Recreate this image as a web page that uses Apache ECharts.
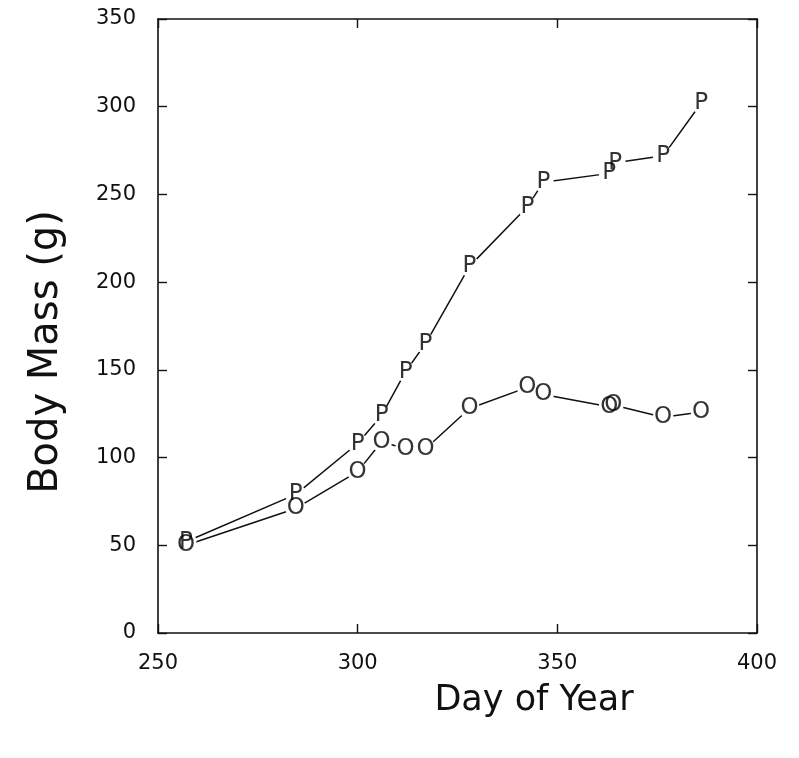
<!DOCTYPE html>
<html>
<head>
<meta charset="utf-8">
<script src="https://cdn.jsdelivr.net/npm/echarts@6/dist/echarts.min.js"></script>
<style>
html,body{margin:0;padding:0;background:#fff;}
#chart{width:799px;height:758px;}
</style>
</head>
<body>
<div id="chart"></div>
<script>
// Day of year and body mass (g)
const pDays   = [257, 284.5, 300, 306, 312, 317, 328, 342.5, 346.5, 363, 364.5, 376.5, 386];
const pMass   = [52, 79, 108, 124, 149, 165, 209, 243, 257, 262, 268, 272, 302];
const oDays   = [257, 284.5, 300, 306, 312, 317, 328, 342.5, 346.5, 363, 364, 376.5, 386];
const oMass   = [50, 71, 92, 109, 105, 105, 128, 140, 136, 129, 130, 123, 126];
const xTicks  = [250, 300, 350, 400];
const yTicks  = [0, 50, 100, 150, 200, 250, 300, 350];
const xTitle  = 'Day of Year';
const yTitle  = 'Body Mass (g)';

const pData = pDays.map((d, i) => [d, pMass[i]]);
const oData = oDays.map((d, i) => [d, oMass[i]]);

const FONT = 'DejaVu Sans';
const INK = '#111';

const chart = echarts.init(document.getElementById('chart'), null, {renderer: 'canvas'});

function lineSeries(data) {
  return {type: 'line', data: data, symbol: 'none', z: 2, silent: true,
          lineStyle: {color: INK, width: 1.5}};
}
function maskSeries(data) {
  return {type: 'scatter', data: data, symbol: 'circle', symbolSize: 21, z: 3, silent: true,
          itemStyle: {color: '#fff', opacity: 1}};
}
function letterSeries(data, letter) {
  return {type: 'scatter', data: data, symbol: 'circle', symbolSize: 1, z: 4, silent: true,
          itemStyle: {color: 'rgba(0,0,0,0)'},
          label: {show: true, position: 'inside', formatter: letter,
                  fontFamily: FONT, fontSize: 23, color: '#000',
                  textBorderWidth: 0, textBorderColor: 'transparent'}};
}

const axisCommon = {
  axisLine: {show: true, onZero: false, lineStyle: {color: INK, width: 1.6}},
  axisTick: {show: true, inside: true, length: 9, lineStyle: {color: INK, width: 1.4}},
  splitLine: {show: false}
};

chart.setOption({
  animation: false,
  backgroundColor: '#fff',
  grid: {left: 158, right: 42, top: 19, bottom: 125, show: false},
  xAxis: [
    Object.assign({type: 'value', min: xTicks[0], max: xTicks[xTicks.length - 1], interval: 50,
      position: 'bottom',
      axisLabel: {show: true, margin: 20, fontFamily: FONT, fontSize: 21, color: INK,
                  formatter: v => xTicks.includes(v) ? String(v) : ''}}, axisCommon),
    Object.assign({type: 'value', min: xTicks[0], max: xTicks[xTicks.length - 1], interval: 50,
      position: 'top', axisLabel: {show: false}}, axisCommon)
  ],
  yAxis: [
    Object.assign({type: 'value', min: yTicks[0], max: yTicks[yTicks.length - 1], interval: 50,
      position: 'left',
      axisLabel: {show: true, margin: 22, fontFamily: FONT, fontSize: 21, color: INK,
                  formatter: v => yTicks.includes(v) ? String(v) : ''}}, axisCommon),
    Object.assign({type: 'value', min: yTicks[0], max: yTicks[yTicks.length - 1], interval: 50,
      position: 'right', axisLabel: {show: false}}, axisCommon)
  ],
  series: [
    lineSeries(pData),
    lineSeries(oData),
    maskSeries(pData),
    maskSeries(oData),
    letterSeries(pData, 'P'),
    letterSeries(oData, 'O')
  ],
  graphic: [
    {type: 'text', x: 534, y: 701, silent: true,
     style: {text: xTitle, fontFamily: FONT, fontSize: 35, fill: INK,
             align: 'center', verticalAlign: 'middle'}},
    {type: 'text', x: 47, y: 352, rotation: Math.PI / 2, silent: true,
     style: {text: yTitle, fontFamily: FONT, fontSize: 40, fill: INK,
             align: 'center', verticalAlign: 'middle'}}
  ]
});
</script>
</body>
</html>
